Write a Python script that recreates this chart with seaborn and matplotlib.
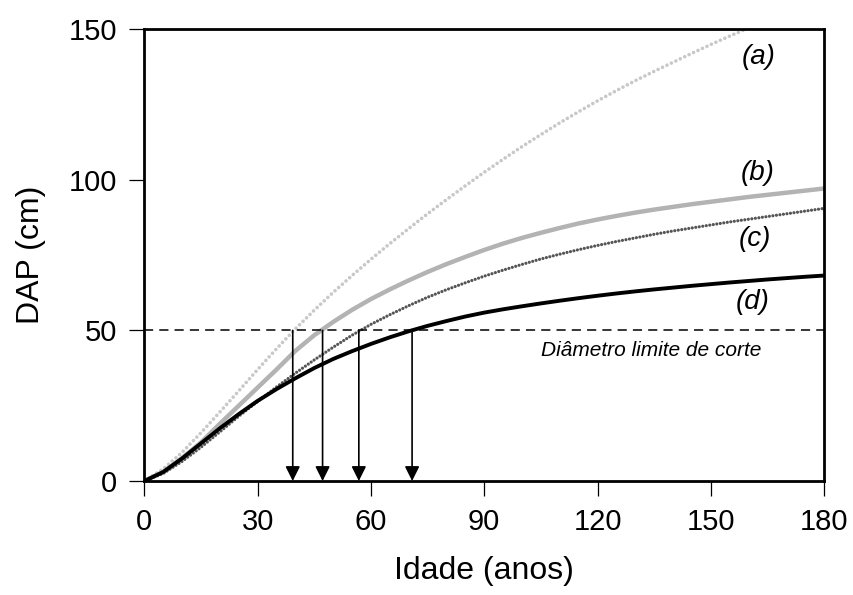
import numpy as np
import pandas as pd
import matplotlib
matplotlib.use("Agg")
import matplotlib.pyplot as plt
import seaborn as sns

# ---------------------------
# Data
# ---------------------------
idade = [0, 5, 10, 15, 20, 25, 30, 35, 40, 45, 50, 55, 60, 65, 70, 75, 80, 85, 90,
         95, 100, 105, 110, 115, 120, 125, 130, 135, 140, 145, 150, 155, 160, 165,
         170, 175, 180]

dap_a = [0, 4.0, 9.5, 16.0, 22.9, 29.9, 37.0, 43.9, 50.5, 56.7, 62.6, 68.2, 73.6,
         78.8, 83.8, 88.7, 93.4, 98.0, 102.5, 106.8, 111.0, 115.0, 118.9, 122.6,
         126.2, 129.6, 132.9, 136.0, 139.0, 142.0, 144.9, 147.7, 150.4, 153.0,
         155.5, 158.0, 160.3]

dap_b = [0, 3.0, 7.6, 12.8, 19.0, 25.0, 31.0, 37.0, 43.2, 48.4, 52.8, 56.8, 60.4,
         63.6, 66.6, 69.4, 72.0, 74.4, 76.7, 78.8, 80.7, 82.4, 84.0, 85.5, 86.8,
         88.0, 89.1, 90.1, 91.0, 91.9, 92.7, 93.5, 94.3, 95.0, 95.7, 96.4, 97.1]

dap_c = [0, 2.5, 6.5, 11.2, 16.3, 21.5, 26.4, 31.2, 35.8, 40.2, 44.4, 48.4, 52.0,
         55.2, 58.2, 61.0, 63.5, 65.8, 68.0, 70.0, 71.9, 73.7, 75.3, 76.8, 78.2,
         79.5, 80.7, 81.9, 83.0, 84.0, 85.0, 86.0, 86.9, 87.8, 88.7, 89.6, 90.5]

dap_d = [0, 3.0, 7.5, 12.5, 17.5, 22.2, 26.6, 30.5, 34.1, 37.5, 40.5, 43.1, 45.5,
         47.7, 49.7, 51.5, 53.1, 54.6, 55.9, 57.0, 58.0, 58.95, 59.85, 60.7, 61.5,
         62.25, 62.95, 63.6, 64.2, 64.8, 65.35, 65.9, 66.4, 66.9, 67.35, 67.8, 68.2]

curve_names = ["(a)", "(b)", "(c)", "(d)"]
label_x = [162.7, 162.5, 161.6, 161.0]
label_y = [140.8, 102.1, 80.5, 59.5]

dml = 50                                  # diametro limite de corte
cut_ages = [39.3, 47.2, 56.8, 70.9]       # idade em que cada curva atinge o DML

df = pd.DataFrame({
    "idade": idade * 4,
    "dap": dap_a + dap_b + dap_c + dap_d,
    "curva": np.repeat(curve_names, len(idade)),
})

# ---------------------------
# Style
# ---------------------------
sns.set_style("ticks")
plt.rcParams["font.family"] = ["Liberation Sans", "DejaVu Sans"]
plt.rcParams["text.color"] = "black"
plt.rcParams["axes.labelcolor"] = "black"

styles = {
    "(a)": dict(color="#c8c8c8", lw=2.6, linestyle=(0, (0.01, 1.35)), dash_capstyle="round"),
    "(b)": dict(color="#b3b3b3", lw=3.2, linestyle="-"),
    "(c)": dict(color="#555555", lw=2.3, linestyle=(0, (0.01, 1.1)), dash_capstyle="round"),
    "(d)": dict(color="black", lw=2.8, linestyle="-"),
}

fig, ax = plt.subplots(figsize=(8.54, 5.95), dpi=100)
fig.subplots_adjust(left=0.169, right=0.965, top=0.951, bottom=0.1916)

for name in curve_names:
    sns.lineplot(data=df[df["curva"] == name], x="idade", y="dap",
                 estimator=None, sort=False, ax=ax, **styles[name])

# linha do diametro limite
ax.axhline(dml, color="black", lw=1.1, linestyle=(0, (6, 4)))

# setas ate o eixo x
for age in cut_ages:
    ax.annotate("", xy=(age, 0), xytext=(age, dml),
                arrowprops=dict(arrowstyle="-|>", color="black", lw=1.2,
                                mutation_scale=22, shrinkA=0, shrinkB=0))

for name, lx, ly in zip(curve_names, label_x, label_y):
    ax.text(lx, ly, name, fontsize=20, style="italic", ha="center", va="center")

ax.text(134.1, 41.5, "Diâmetro limite de corte", fontsize=15, style="italic",
        ha="center", va="baseline")

ax.set_xlim(0, 180)
ax.set_ylim(0, 150)
ax.set_xticks(range(0, 181, 30))
ax.set_yticks(range(0, 151, 50))
ax.set_xlabel("Idade (anos)", fontsize=23, labelpad=14)
ax.set_ylabel("DAP (cm)", fontsize=23, labelpad=16)
ax.tick_params(axis="both", direction="out", length=10.8, width=0.9,
               labelsize=21, pad=9, colors="black")

for side in ["left", "right", "top", "bottom"]:
    ax.spines[side].set_visible(True)
    ax.spines[side].set_linewidth(2.0)
    ax.spines[side].set_color("black")

fig.savefig("out.png", dpi=100)
